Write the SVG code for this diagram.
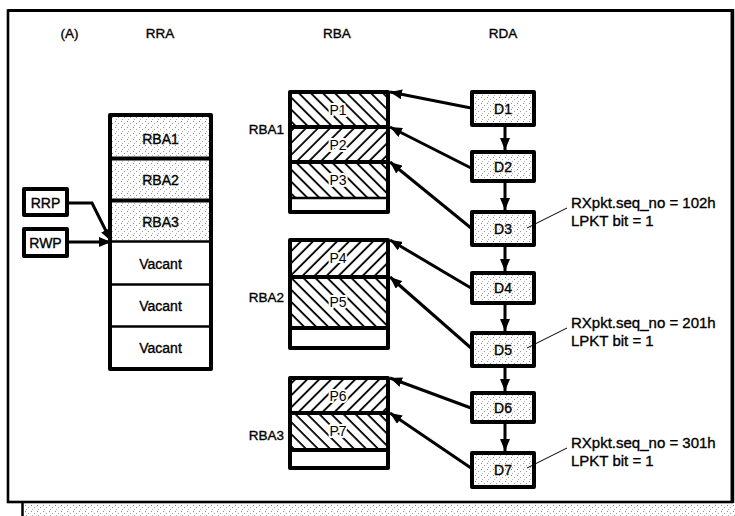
<svg xmlns="http://www.w3.org/2000/svg" width="735" height="516" viewBox="0 0 735 516">
<defs>
<pattern id="dots" patternUnits="userSpaceOnUse" width="6" height="6">
<rect width="6" height="6" fill="#fff"/>
<rect x="1" y="1" width="1" height="1" fill="#8a8a8a"/>
<rect x="4" y="3" width="1" height="1" fill="#9a9a9a"/>
<rect x="2" y="5" width="1" height="1" fill="#b0b0b0"/>
</pattern>
<pattern id="hb" patternUnits="userSpaceOnUse" width="8.5" height="10" patternTransform="rotate(-45)">
<rect width="8.5" height="10" fill="#fff"/>
<line x1="1" y1="0" x2="1" y2="10" stroke="#000" stroke-width="1.8"/>
</pattern>
<pattern id="hf" patternUnits="userSpaceOnUse" width="8.5" height="10" patternTransform="rotate(45)">
<rect width="8.5" height="10" fill="#fff"/>
<line x1="1" y1="0" x2="1" y2="10" stroke="#000" stroke-width="1.8"/>
</pattern>
<marker id="ah" markerUnits="userSpaceOnUse" markerWidth="12" markerHeight="10" refX="12" refY="5" orient="auto">
<path d="M0,0 L12,5 L0,10 z" fill="#000"/>
</marker>
</defs>
<style>
text{font-family:"Liberation Sans",Arial,sans-serif;fill:#000;text-anchor:middle;dominant-baseline:central;stroke:#000;stroke-width:0.35px}
.t{font-size:13.5px}
.l{font-size:13.5px}
.lab{font-size:14px}
.h{font-size:14px;paint-order:stroke;stroke:#fff;stroke-width:4px;stroke-linejoin:round}
.ann{font-size:15px;text-anchor:start;dominant-baseline:alphabetic}
.box{stroke:#000;stroke-width:4;stroke-linejoin:round}
.sep{stroke:#000;stroke-width:4;fill:none}
.sep2{stroke:#000;stroke-width:2.5;fill:none}
.con{stroke:#000;stroke-width:3;fill:none;marker-end:url(#ah)}
.lead{stroke:#000;stroke-width:1;fill:none}
</style>
<rect width="735" height="516" fill="#fff"/>
<g id="frame">
<rect x="24" y="505" width="711" height="11" fill="url(#dots)"/>
<line x1="22.5" y1="503" x2="22.5" y2="516" stroke="#000" stroke-width="2.5"/>
<rect x="8" y="10.5" width="724" height="491.5" fill="none" stroke="#000" stroke-width="2.6"/>
<line x1="8" y1="10.5" x2="732" y2="10.5" stroke="#000" stroke-width="3.2"/>
<line x1="732.5" y1="9" x2="732.5" y2="503" stroke="#000" stroke-width="3.5"/>
</g>
<g id="titles">
<text class="t" x="69.5" y="33">(A)</text>
<text class="t" x="160" y="33">RRA</text>
<text class="t" x="337" y="33">RBA</text>
<text class="t" x="503" y="33">RDA</text>
</g>
<g id="RRA">
<rect x="110" y="115" width="101" height="126" fill="url(#dots)"/>
<rect x="110" y="115" width="101" height="254" fill="none" class="box"/>
<line class="sep" x1="110" y1="158.5" x2="211" y2="158.5"/>
<line class="sep" x1="110" y1="200.5" x2="211" y2="200.5"/>
<line class="sep2" x1="110" y1="241.5" x2="211" y2="241.5"/>
<line class="sep2" x1="110" y1="284.5" x2="211" y2="284.5"/>
<line class="sep2" x1="110" y1="326.5" x2="211" y2="326.5"/>
<text class="lab" x="160.5" y="139">RBA1</text>
<text class="lab" x="160.5" y="180">RBA2</text>
<text class="lab" x="160.5" y="222">RBA3</text>
<text class="lab" x="160.5" y="264">Vacant</text>
<text class="lab" x="160.5" y="306">Vacant</text>
<text class="lab" x="160.5" y="348">Vacant</text>
</g>
<g id="RRP">
<rect x="24" y="189" width="43" height="26" fill="#fff" class="box"/>
<text class="lab" x="45.5" y="202.5">RRP</text>
</g>
<g id="RWP">
<rect x="24" y="229" width="43" height="27" fill="#fff" class="box"/>
<text class="lab" x="45.5" y="243">RWP</text>
</g>
<g id="RBA1">
<text class="l" x="266.5" y="129">RBA1</text>
<rect x="290" y="92" width="98" height="35" fill="url(#hb)"/>
<rect x="290" y="127" width="98" height="35" fill="url(#hf)"/>
<rect x="290" y="162" width="98" height="36" fill="url(#hb)"/>
<rect x="290" y="92" width="98" height="120" fill="none" class="box"/>
<line class="sep" x1="290" y1="127" x2="388" y2="127"/>
<line class="sep" x1="290" y1="162" x2="388" y2="162"/>
<line class="sep2" x1="290" y1="198" x2="388" y2="198"/>
<text class="h" x="338" y="110">P1</text>
<text class="h" x="338" y="145">P2</text>
<text class="h" x="338" y="180">P3</text>
</g>
<g id="RBA2">
<text class="l" x="266.5" y="297">RBA2</text>
<rect x="290" y="240" width="98" height="37" fill="url(#hf)"/>
<rect x="290" y="277" width="98" height="51" fill="url(#hb)"/>
<rect x="290" y="240" width="98" height="108" fill="none" class="box"/>
<line class="sep" x1="290" y1="277" x2="388" y2="277"/>
<line class="sep" x1="290" y1="328" x2="388" y2="328"/>
<text class="h" x="338" y="258">P4</text>
<text class="h" x="338" y="302">P5</text>
</g>
<g id="RBA3">
<text class="l" x="266.5" y="435">RBA3</text>
<rect x="290" y="378" width="98" height="35" fill="url(#hf)"/>
<rect x="290" y="413" width="98" height="37" fill="url(#hb)"/>
<rect x="290" y="378" width="98" height="90" fill="none" class="box"/>
<line class="sep" x1="290" y1="413" x2="388" y2="413"/>
<line class="sep" x1="290" y1="450" x2="388" y2="450"/>
<text class="h" x="338" y="396">P6</text>
<text class="h" x="338" y="431">P7</text>
</g>
<g id="D1"><rect x="472" y="92" width="62" height="33" fill="url(#dots)" class="box"/><text class="lab" x="503" y="108.5">D1</text></g>
<g id="D2"><rect x="472" y="152" width="62" height="29" fill="url(#dots)" class="box"/><text class="lab" x="503" y="166.5">D2</text></g>
<g id="D3"><rect x="472" y="212" width="62" height="33" fill="url(#dots)" class="box"/><text class="lab" x="503" y="229">D3</text></g>
<g id="D4"><rect x="472" y="273" width="62" height="30" fill="url(#dots)" class="box"/><text class="lab" x="503" y="288">D4</text></g>
<g id="D5"><rect x="472" y="333" width="62" height="33" fill="url(#dots)" class="box"/><text class="lab" x="503" y="349.5">D5</text></g>
<g id="D6"><rect x="472" y="393" width="62" height="29" fill="url(#dots)" class="box"/><text class="lab" x="503" y="407.5">D6</text></g>
<g id="D7"><rect x="472" y="453" width="62" height="34" fill="url(#dots)" class="box"/><text class="lab" x="503" y="470">D7</text></g>
<g id="ann1">
<text class="ann" x="571" y="208">RXpkt.seq_no = 102h</text>
<text class="ann" x="571" y="226">LPKT bit = 1</text>
<line class="lead" x1="567" y1="208" x2="527" y2="228"/>
</g>
<g id="ann2">
<text class="ann" x="571" y="328">RXpkt.seq_no = 201h</text>
<text class="ann" x="571" y="346">LPKT bit = 1</text>
<line class="lead" x1="567" y1="328" x2="527" y2="348"/>
</g>
<g id="ann3">
<text class="ann" x="571" y="448">RXpkt.seq_no = 301h</text>
<text class="ann" x="571" y="466">LPKT bit = 1</text>
<line class="lead" x1="567" y1="448" x2="527" y2="468"/>
</g>
<g id="connectors">
<polyline class="con" points="67,203 92,203 111,241"/>
<line class="con" x1="67" y1="242" x2="111" y2="242"/>
<line class="con" x1="505" y1="127" x2="505" y2="150"/>
<line class="con" x1="505" y1="183" x2="505" y2="210"/>
<line class="con" x1="505" y1="247" x2="505" y2="271"/>
<line class="con" x1="505" y1="305" x2="505" y2="331"/>
<line class="con" x1="505" y1="368" x2="505" y2="391"/>
<line class="con" x1="505" y1="424" x2="505" y2="451"/>
<line class="con" x1="471" y1="108" x2="390" y2="92"/>
<line class="con" x1="471" y1="168" x2="390" y2="127"/>
<line class="con" x1="471" y1="228" x2="390" y2="162"/>
<line class="con" x1="471" y1="288" x2="390" y2="240"/>
<line class="con" x1="471" y1="348" x2="390" y2="277"/>
<line class="con" x1="471" y1="408" x2="390" y2="378"/>
<line class="con" x1="471" y1="468" x2="390" y2="413"/>
</g>
</svg>
